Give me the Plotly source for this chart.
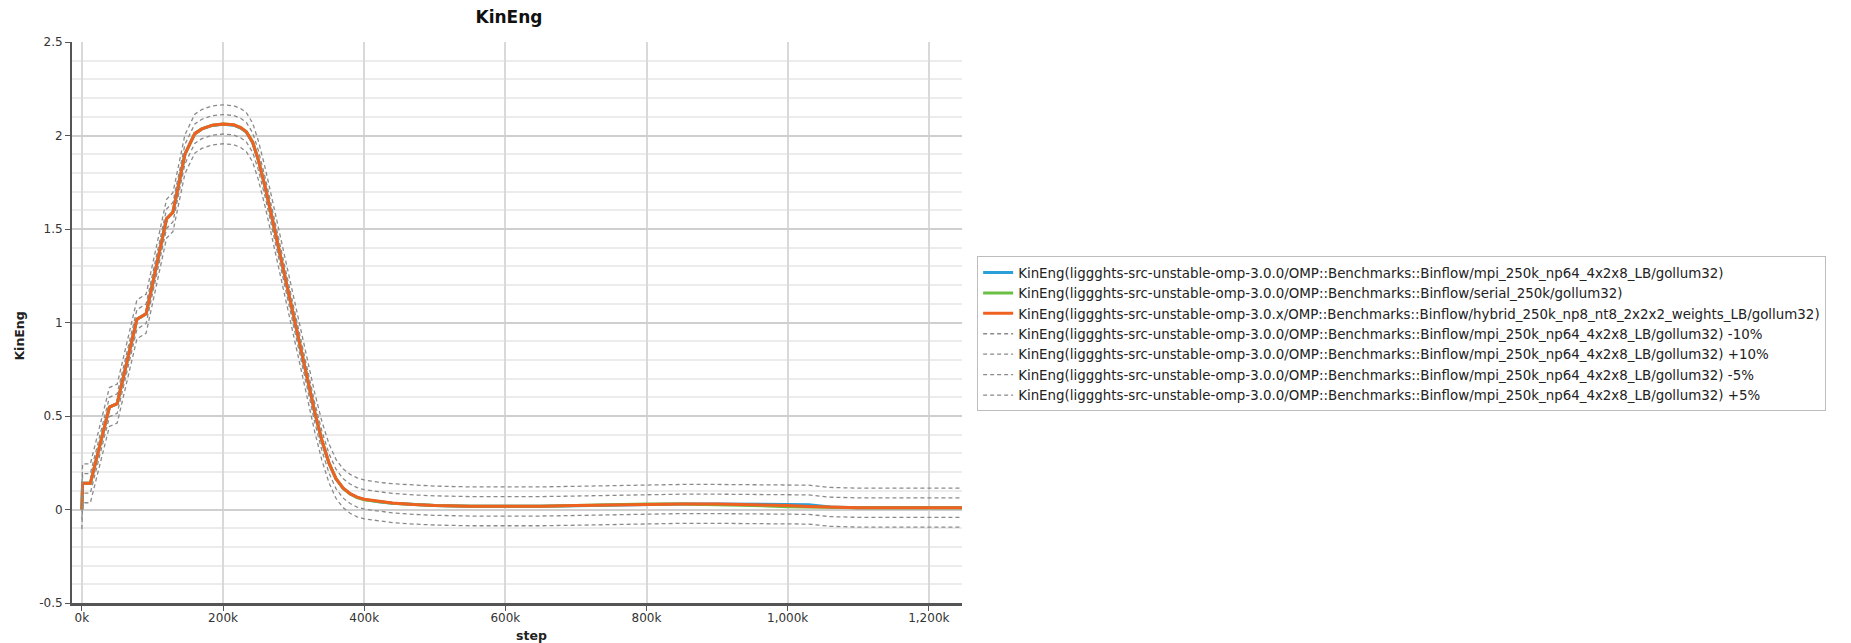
import plotly.graph_objects as go

# ---- data ----
STEPS = [0, 1000, 12000, 39000, 50000, 78000, 91000, 120000, 129000, 146000,
         160000, 170000, 185000, 200000, 215000, 225000, 233000, 242000, 250000, 260000,
         270000, 280000, 290000, 300000, 310000, 320000, 330000, 340000, 350000, 360000,
         370000, 380000, 390000, 400000, 420000, 440000, 470000, 500000, 550000, 600000,
         650000, 700000, 750000, 800000, 850000, 900000, 950000, 1000000, 1030000, 1060000,
         1100000, 1150000, 1200000, 1250000]

MPI = [0.000, 0.140, 0.140, 0.548, 0.566, 1.017, 1.047, 1.555, 1.590, 1.900,
       2.010, 2.035, 2.054, 2.060, 2.055, 2.040, 2.018, 1.962, 1.868, 1.718,
       1.548, 1.378, 1.198, 1.028, 0.858, 0.688, 0.518, 0.368, 0.248, 0.164,
       0.114, 0.084, 0.065, 0.054, 0.042, 0.034, 0.026, 0.021, 0.017, 0.016,
       0.017, 0.020, 0.024, 0.028, 0.030, 0.030, 0.030, 0.029, 0.026, 0.014,
       0.010, 0.010, 0.010, 0.010]

SERIAL = [0.000, 0.140, 0.140, 0.548, 0.566, 1.017, 1.047, 1.555, 1.590, 1.900,
          2.010, 2.035, 2.055, 2.062, 2.057, 2.042, 2.020, 1.964, 1.870, 1.720,
          1.550, 1.380, 1.200, 1.030, 0.860, 0.690, 0.520, 0.370, 0.250, 0.165,
          0.114, 0.083, 0.063, 0.052, 0.041, 0.034, 0.027, 0.022, 0.018, 0.017,
          0.018, 0.022, 0.026, 0.029, 0.029, 0.027, 0.022, 0.015, 0.012, 0.010,
          0.009, 0.009, 0.009, 0.009]

HYBRID = [0.000, 0.140, 0.140, 0.548, 0.566, 1.017, 1.047, 1.555, 1.590, 1.900,
          2.010, 2.035, 2.055, 2.062, 2.057, 2.042, 2.020, 1.964, 1.870, 1.720,
          1.550, 1.380, 1.200, 1.030, 0.860, 0.690, 0.520, 0.370, 0.250, 0.165,
          0.115, 0.085, 0.066, 0.055, 0.043, 0.035, 0.027, 0.022, 0.018, 0.017,
          0.018, 0.021, 0.025, 0.028, 0.030, 0.030, 0.027, 0.021, 0.016, 0.012,
          0.010, 0.009, 0.009, 0.009]

MPI_M10 = [-0.104, 0.036, 0.036, 0.444, 0.462, 0.913, 0.943, 1.451, 1.486, 1.796,
           1.906, 1.931, 1.950, 1.956, 1.951, 1.936, 1.914, 1.858, 1.764, 1.614,
           1.444, 1.274, 1.094, 0.924, 0.754, 0.584, 0.414, 0.264, 0.144, 0.060,
           0.010, -0.020, -0.039, -0.050, -0.062, -0.070, -0.078, -0.083, -0.087, -0.088,
           -0.087, -0.084, -0.080, -0.076, -0.074, -0.074, -0.074, -0.075, -0.078, -0.090,
           -0.094, -0.094, -0.094, -0.094]

MPI_P10 = [0.104, 0.244, 0.244, 0.652, 0.670, 1.121, 1.151, 1.659, 1.694, 2.004,
           2.114, 2.139, 2.158, 2.164, 2.159, 2.144, 2.122, 2.066, 1.972, 1.822,
           1.652, 1.482, 1.302, 1.132, 0.962, 0.792, 0.622, 0.472, 0.352, 0.268,
           0.218, 0.188, 0.169, 0.158, 0.146, 0.138, 0.130, 0.125, 0.121, 0.120,
           0.121, 0.124, 0.128, 0.132, 0.134, 0.134, 0.134, 0.133, 0.130, 0.118,
           0.114, 0.114, 0.114, 0.114]

MPI_M5 = [-0.052, 0.088, 0.088, 0.496, 0.514, 0.965, 0.995, 1.503, 1.538, 1.848,
          1.958, 1.983, 2.002, 2.008, 2.003, 1.988, 1.966, 1.910, 1.816, 1.666,
          1.496, 1.326, 1.146, 0.976, 0.806, 0.636, 0.466, 0.316, 0.196, 0.112,
          0.062, 0.032, 0.013, 0.002, -0.010, -0.018, -0.026, -0.031, -0.035, -0.036,
          -0.035, -0.032, -0.028, -0.024, -0.022, -0.022, -0.022, -0.023, -0.026, -0.038,
          -0.042, -0.042, -0.042, -0.042]

MPI_P5 = [0.052, 0.192, 0.192, 0.600, 0.618, 1.069, 1.099, 1.607, 1.642, 1.952,
          2.062, 2.087, 2.106, 2.112, 2.107, 2.092, 2.070, 2.014, 1.920, 1.770,
          1.600, 1.430, 1.250, 1.080, 0.910, 0.740, 0.570, 0.420, 0.300, 0.216,
          0.166, 0.136, 0.117, 0.106, 0.094, 0.086, 0.078, 0.073, 0.069, 0.068,
          0.069, 0.072, 0.076, 0.080, 0.082, 0.082, 0.082, 0.081, 0.078, 0.066,
          0.062, 0.062, 0.062, 0.062]

NAMES = [
    "KinEng(liggghts-src-unstable-omp-3.0.0/OMP::Benchmarks::Binflow/mpi_250k_np64_4x2x8_LB/gollum32)",
    "KinEng(liggghts-src-unstable-omp-3.0.0/OMP::Benchmarks::Binflow/serial_250k/gollum32)",
    "KinEng(liggghts-src-unstable-omp-3.0.x/OMP::Benchmarks::Binflow/hybrid_250k_np8_nt8_2x2x2_weights_LB/gollum32)",
    "KinEng(liggghts-src-unstable-omp-3.0.0/OMP::Benchmarks::Binflow/mpi_250k_np64_4x2x8_LB/gollum32) -10%",
    "KinEng(liggghts-src-unstable-omp-3.0.0/OMP::Benchmarks::Binflow/mpi_250k_np64_4x2x8_LB/gollum32) +10%",
    "KinEng(liggghts-src-unstable-omp-3.0.0/OMP::Benchmarks::Binflow/mpi_250k_np64_4x2x8_LB/gollum32) -5%",
    "KinEng(liggghts-src-unstable-omp-3.0.0/OMP::Benchmarks::Binflow/mpi_250k_np64_4x2x8_LB/gollum32) +5%",
]

X_TICKS = [0, 200000, 400000, 600000, 800000, 1000000, 1200000]
X_LABELS = ["0k", "200k", "400k", "600k", "800k", "1,000k", "1,200k"]
Y_TICKS = [-0.5, 0, 0.5, 1, 1.5, 2, 2.5]
Y_LABELS = ["-0.5", "0", "0.5", "1", "1.5", "2", "2.5"]

FONT = "DejaVu Sans"

fig = go.Figure()

main = [(MPI, "#2b9fd8"), (SERIAL, "#6cbf45"), (HYBRID, "#ef6021")]
for (vals, col), name in zip(main, NAMES[:3]):
    fig.add_trace(go.Scatter(x=STEPS, y=vals, mode="lines", name=name,
                             line=dict(color=col, width=3)))

for vals, name in zip([MPI_M10, MPI_P10, MPI_M5, MPI_P5], NAMES[3:]):
    fig.add_trace(go.Scatter(x=STEPS, y=vals, mode="lines", name=name,
                             line=dict(color="#8a8a8a", width=1.3, dash="4px,3px")))

axis_title_font = dict(family=FONT, size=12.5, color="#222222", weight="bold")

fig.update_layout(
    width=1851, height=643,
    margin=dict(l=72, r=889, t=42, b=40, autoexpand=False),
    paper_bgcolor="white", plot_bgcolor="white",
    font=dict(family=FONT, size=12, color="#333333"),
    title=dict(text="KinEng", x=0.491, xref="paper", xanchor="center",
               y=1 - 17 / 643, yref="container", yanchor="middle",
               font=dict(family=FONT, size=17, color="#111111", weight="bold")),
    showlegend=True,
    legend=dict(x=1.017, xanchor="left", y=0.618, yanchor="top",
                bordercolor="#bdbdbd", borderwidth=1, bgcolor="white",
                font=dict(family=FONT, size=13.4, color="#222222"),
                tracegroupgap=0),
    xaxis=dict(range=[-14000, 1247000], tickmode="array", tickvals=X_TICKS, ticktext=X_LABELS,
               showgrid=True, gridcolor="#d9d9d9", gridwidth=2,
               showline=True, linecolor="#555555", linewidth=3,
               ticks="outside", ticklen=5, tickcolor="#555555", tickwidth=1,
               ticklabelstandoff=-3, automargin=False,
               zeroline=False),
    yaxis=dict(range=[-0.5, 2.5], tickmode="array", tickvals=Y_TICKS, ticktext=Y_LABELS,
               showgrid=True, gridcolor="#cfcfcf", gridwidth=2,
               minor=dict(dtick=0.1, tick0=0, showgrid=True, gridcolor="#ececec", gridwidth=2),
               showline=True, linecolor="#555555", linewidth=2,
               ticks="outside", ticklen=5, tickcolor="#555555", tickwidth=1,
               automargin=False,
               zeroline=False),
    annotations=[
        dict(text="step", xref="paper", yref="paper", x=0.516, y=-0.0575,
             xanchor="center", yanchor="middle", showarrow=False, font=axis_title_font),
        dict(text="KinEng", xref="paper", yref="paper", x=-0.0585, y=0.4766,
             xanchor="center", yanchor="middle", textangle=-90, showarrow=False,
             font=axis_title_font),
    ],
)

fig.write_html("out.html")
